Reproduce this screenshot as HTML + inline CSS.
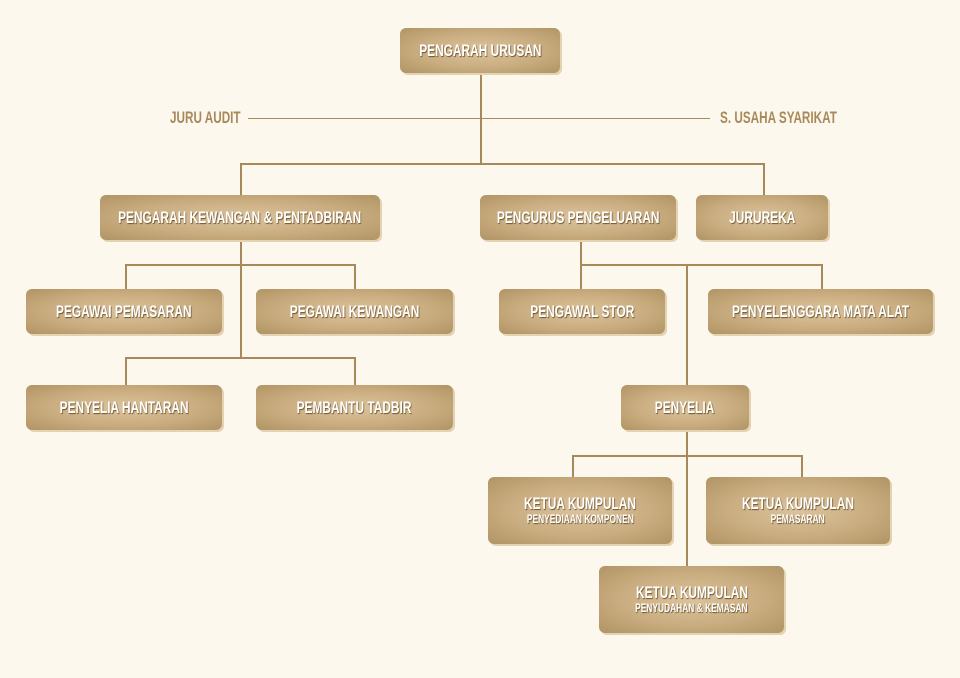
<!DOCTYPE html>
<html><head><meta charset="utf-8"><style>
body{margin:0;background:#fdf8ee;width:960px;height:678px;position:relative;overflow:hidden;font-family:"Liberation Sans",sans-serif;font-weight:bold}
.b{position:absolute;box-sizing:border-box;border-radius:6px;background:radial-gradient(ellipse at 50% 50%,#dcc39c 0%,#c9ad80 55%,#b09464 100%);box-shadow:2px 2px 0 #e3d3b3;color:#fff;text-shadow:1px 1px 1px #6e5530;display:flex;flex-direction:column;align-items:center;justify-content:center;font-size:17px;text-align:center;line-height:1.15;white-space:nowrap}
.b span{display:inline-block;transform:scaleX(0.7)}
.b small{font-size:12px;display:inline-block;transform:scaleX(0.7)}
.l{position:absolute;background:#a8895a}
.t{position:absolute;color:#a8895a;font-size:17px;transform:scaleX(0.69);transform-origin:left;white-space:nowrap}
</style></head><body>
<div class="l" style="left:480px;top:73px;width:2px;height:91px"></div>
<div class="l" style="left:248px;top:118px;width:462px;height:1px"></div>
<div class="l" style="left:240px;top:163px;width:525px;height:2px"></div>
<div class="l" style="left:240px;top:163px;width:2px;height:32px"></div>
<div class="l" style="left:763px;top:163px;width:2px;height:32px"></div>
<div class="l" style="left:240px;top:240px;width:2px;height:119px"></div>
<div class="l" style="left:125px;top:264px;width:231px;height:2px"></div>
<div class="l" style="left:125px;top:264px;width:2px;height:25px"></div>
<div class="l" style="left:354px;top:264px;width:2px;height:25px"></div>
<div class="l" style="left:125px;top:357px;width:231px;height:2px"></div>
<div class="l" style="left:125px;top:357px;width:2px;height:28px"></div>
<div class="l" style="left:354px;top:357px;width:2px;height:28px"></div>
<div class="l" style="left:580px;top:240px;width:2px;height:49px"></div>
<div class="l" style="left:580px;top:264px;width:243px;height:2px"></div>
<div class="l" style="left:821px;top:264px;width:2px;height:25px"></div>
<div class="l" style="left:686px;top:264px;width:2px;height:121px"></div>
<div class="l" style="left:686px;top:430px;width:2px;height:136px"></div>
<div class="l" style="left:572px;top:455px;width:231px;height:2px"></div>
<div class="l" style="left:572px;top:455px;width:2px;height:22px"></div>
<div class="l" style="left:801px;top:455px;width:2px;height:22px"></div>
<div class="t" style="left:170px;top:108px">JURU AUDIT</div>
<div class="t" style="left:720px;top:108px">S. USAHA SYARIKAT</div>
<div class="b" style="left:400px;top:28px;width:160px;height:45px"><span>PENGARAH URUSAN</span></div>
<div class="b" style="left:100px;top:195px;width:280px;height:45px"><span>PENGARAH KEWANGAN &amp; PENTADBIRAN</span></div>
<div class="b" style="left:480px;top:195px;width:196px;height:45px"><span>PENGURUS PENGELUARAN</span></div>
<div class="b" style="left:696px;top:195px;width:132px;height:45px"><span>JURUREKA</span></div>
<div class="b" style="left:26px;top:289px;width:196px;height:45px"><span>PEGAWAI PEMASARAN</span></div>
<div class="b" style="left:256px;top:289px;width:197px;height:45px"><span>PEGAWAI KEWANGAN</span></div>
<div class="b" style="left:26px;top:385px;width:196px;height:45px"><span>PENYELIA HANTARAN</span></div>
<div class="b" style="left:256px;top:385px;width:197px;height:45px"><span>PEMBANTU TADBIR</span></div>
<div class="b" style="left:499px;top:289px;width:166px;height:45px"><span>PENGAWAL STOR</span></div>
<div class="b" style="left:708px;top:289px;width:225px;height:45px"><span>PENYELENGGARA MATA ALAT</span></div>
<div class="b" style="left:621px;top:385px;width:128px;height:45px"><span>PENYELIA</span></div>
<div class="b" style="left:488px;top:477px;width:184px;height:67px"><span>KETUA KUMPULAN</span><small>PENYEDIAAN KOMPONEN</small></div>
<div class="b" style="left:706px;top:477px;width:184px;height:67px"><span>KETUA KUMPULAN</span><small>PEMASARAN</small></div>
<div class="b" style="left:599px;top:566px;width:185px;height:67px"><span>KETUA KUMPULAN</span><small>PENYUDAHAN &amp; KEMASAN</small></div>
</body></html>
